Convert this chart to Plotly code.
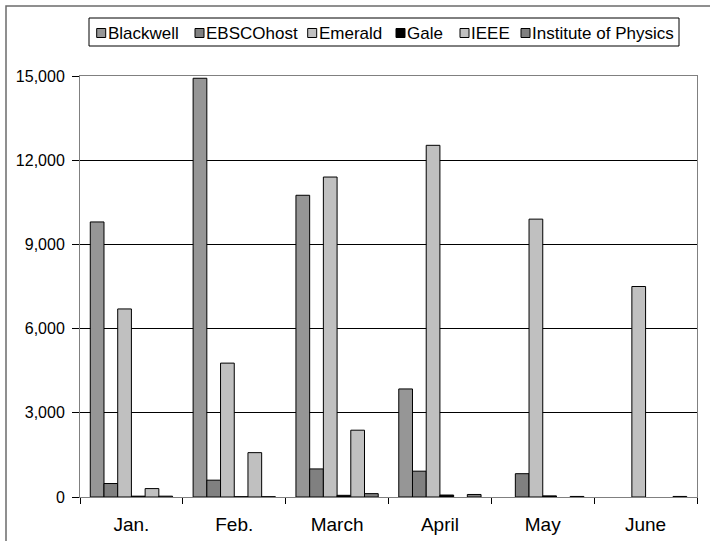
import plotly.graph_objects as go

months = ["Jan.", "Feb.", "March", "April", "May", "June"]
series_names = ["Blackwell", "EBSCOhost", "Emerald", "Gale", "IEEE", "Institute of Physics"]
blackwell = [9800, 14920, 10750, 3850, None, None]
ebscohost = [480, 600, 1000, 920, 830, None]
emerald = [6700, 4770, 11400, 12530, 9900, 7500]
gale = [30, 10, 60, 70, 40, None]
ieee = [300, 1580, 2380, None, None, None]
iop = [30, 10, 120, 90, 20, 20]
y_ticks = [0, 3000, 6000, 9000, 12000, 15000]

colors = ["#969696", "#808080", "#c0c0c0", "#000000", "#c0c0c0", "#808080"]
values = [blackwell, ebscohost, emerald, gale, ieee, iop]

FONT = "Liberation Sans, Arial, sans-serif"
W, H = 710, 541
L, R, T, B = 80, 13, 76, 44
pw, ph = W - L - R, H - T - B


def px(x):
    return (x - L) / pw


def py(y):
    return (H - B - y) / ph


fig = go.Figure()
for name, vals, col in zip(series_names, values, colors):
    fig.add_trace(go.Bar(
        name=name, x=months, y=vals,
        marker=dict(color=col, line=dict(color="#000000", width=1)),
    ))

shapes = []
annotations = []
# outer chart frame
shapes.append(dict(type="rect", xref="paper", yref="paper",
                   x0=px(6), x1=px(716), y0=py(548), y1=py(6),
                   line=dict(color="#6b6b6b", width=1.5), fillcolor="rgba(0,0,0,0)", layer="below"))
# legend frame
shapes.append(dict(type="rect", xref="paper", yref="paper",
                   x0=px(89), x1=px(679), y0=py(46), y1=py(18),
                   line=dict(color="#000000", width=1), fillcolor="#ffffff"))
legend_x = [96.7, 195, 307.7, 396, 460, 521]
for xb, name, col in zip(legend_x, series_names, colors):
    shapes.append(dict(type="rect", xref="paper", yref="paper",
                       x0=px(xb), x1=px(xb + 9), y0=py(37.5), y1=py(28.5),
                       line=dict(color="#000000", width=1), fillcolor=col))
    annotations.append(dict(xref="paper", yref="paper", x=px(xb + 9), y=py(33),
                            xanchor="left", yanchor="middle", showarrow=False,
                            text=name, font=dict(family=FONT, size=17, color="#000000")))

fig.update_layout(
    width=W, height=H,
    margin=dict(l=L, r=R, t=T, b=B, pad=0, autoexpand=False),
    barmode="group", bargap=0.2, bargroupgap=0,
    paper_bgcolor="#ffffff", plot_bgcolor="#ffffff",
    showlegend=False,
    font=dict(family=FONT, color="#000000"),
    shapes=shapes, annotations=annotations,
    xaxis=dict(showline=True, linecolor="#808080", linewidth=1, mirror=True,
               ticks="outside", tickson="boundaries", ticklen=6, tickcolor="#000000",
               ticklabelstandoff=10, automargin=False,
               tickfont=dict(family=FONT, size=19, color="#000000"), showgrid=False),
    yaxis=dict(range=[0, 15000], tickvals=y_ticks, tickformat=",",
               showline=True, linecolor="#808080", linewidth=1, mirror=True,
               ticks="outside", ticklen=7, tickcolor="#000000", automargin=False,
               ticklabelstandoff=4,
               showgrid=True, gridcolor="#000000", gridwidth=1, zeroline=False,
               tickfont=dict(family=FONT, size=16, color="#000000")),
)

fig.write_html("out.html", config={"displayModeBar": False},
               post_script="document.body.style.margin='0px';")
